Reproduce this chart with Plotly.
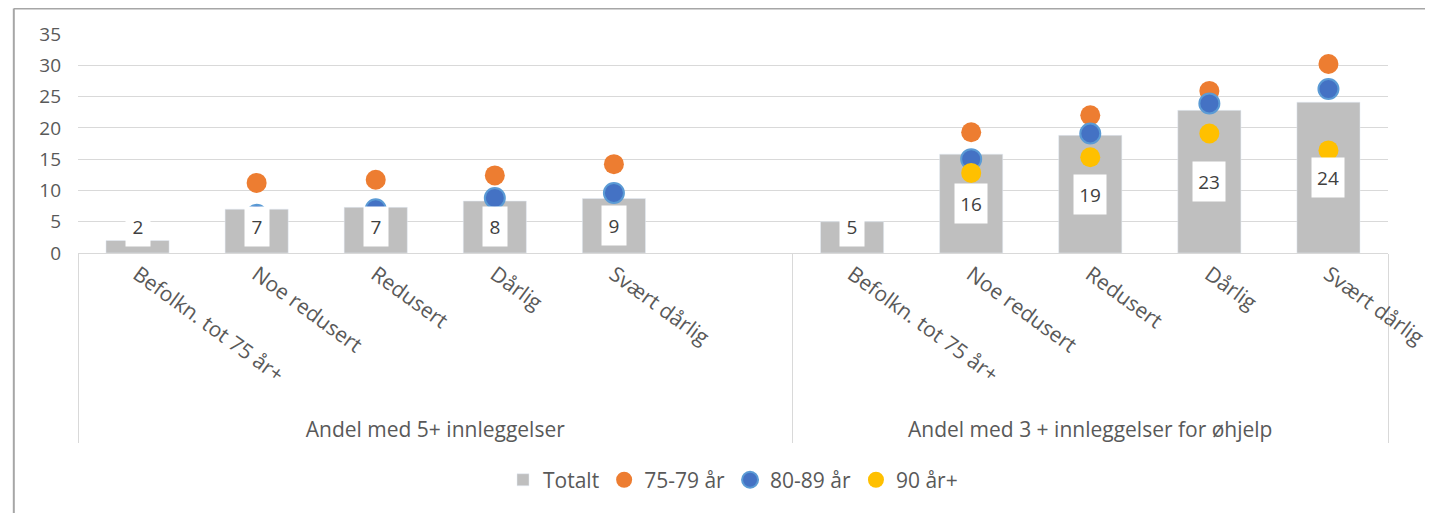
import plotly.graph_objects as go

# Data
grupper = ["Andel med 5+ innleggelser"] * 6 + ["Andel med 3 + innleggelser for øhjelp"] * 5
kategorier = ["Befolkn. tot 75 år+", "Noe redusert", "Redusert", "Dårlig", "Svært dårlig", " ",
              "Befolkn. tot 75 år+", "Noe redusert", "Redusert", "Dårlig", "Svært dårlig"]
totalt = [2.0, 7.0, 7.3, 8.3, 8.7, None, 5.0, 15.8, 18.8, 22.8, 24.1]
alder_75_79 = [None, 11.2, 11.7, 12.4, 14.2, None, None, 19.3, 22.0, 25.9, 30.2]
alder_80_89 = [None, 6.1, 7.0, 8.8, 9.6, None, None, 15.0, 19.1, 23.9, 26.2]
alder_90 = [None, None, None, None, None, None, None, 12.8, 15.3, 19.1, 16.4]

FONT = "Open Sans, Noto Sans, sans-serif"
GRA_TEKST = '#595959'
GRID = '#D9D9D9'

x = [grupper, kategorier]

fig = go.Figure()
fig.add_trace(go.Bar(x=x, y=totalt, name='Totalt', marker_color='#BFBFBF'))
fig.add_trace(go.Scatter(x=x, y=alder_75_79, name='75-79 år', mode='markers',
                         marker=dict(color='#ED7D31', size=20)))
fig.add_trace(go.Scatter(x=x, y=alder_80_89, name='80-89 år', mode='markers',
                         marker=dict(color='#4472C4', size=20, line=dict(color='#5B9BD5', width=2))))
fig.add_trace(go.Scatter(x=x, y=alder_90, name='90 år+', mode='markers',
                         marker=dict(color='#FFC000', size=20)))

# white data labels for the bars (Excel style, centred in bar, kept above the axis)
for g, k, v in zip(grupper, kategorier, totalt):
    if v is None:
        continue
    fig.add_annotation(x=[g, k], y=max(v / 2, 4.2), text=str(round(v)), showarrow=False,
                       bgcolor='white', width=30 if v >= 9.5 else 22, height=37,
                       font=dict(family=FONT, size=19, color='#404040'))

# outer chart border (cropped, only left and top visible)
fig.add_shape(type='line', xref='paper', yref='paper', x0=-0.049, x1=1.05, y0=1.116, y1=1.116,
              line=dict(color='#A6A6A6', width=2))
fig.add_shape(type='line', xref='paper', yref='paper', x0=-0.049, x1=-0.049, y0=1.116, y1=-1.2,
              line=dict(color='#A6A6A6', width=2))

# page has an 8px body margin, so the figure is a bit smaller and shifted
fig.update_layout(
    width=1425, height=505,
    margin=dict(t=26, b=260, l=70, r=45, autoexpand=False),
    paper_bgcolor='white',
    plot_bgcolor='white',
    font=dict(family=FONT, size=21, color=GRA_TEKST),
    bargap=0.47,
    showlegend=True,
    legend=dict(orientation='h', x=0.5, xanchor='center', y=-1.037, yanchor='middle',
                font=dict(size=21, color=GRA_TEKST), itemwidth=30, traceorder='normal'),
    xaxis=dict(
        type='multicategory',
        range=[-0.5, 10.5],
        tickangle=36,
        showline=True,
        linecolor=GRID,
        linewidth=1,
        showgrid=False,
        ticks='',
        showdividers=True,
        dividercolor=GRID,
        dividerwidth=1,
        tickfont=dict(family=FONT, size=21, color=GRA_TEKST),
    ),
    yaxis=dict(
        range=[0, 35],
        tickmode='linear', tick0=0, dtick=5,
        showgrid=True,
        gridcolor=GRID,
        gridwidth=1,
        zeroline=False,
        showline=False,
        ticks='',
        ticklabelstandoff=16,
        tickfont=dict(family=FONT, size=19, color=GRA_TEKST),
    ),
)

fig.write_html("out.html")
